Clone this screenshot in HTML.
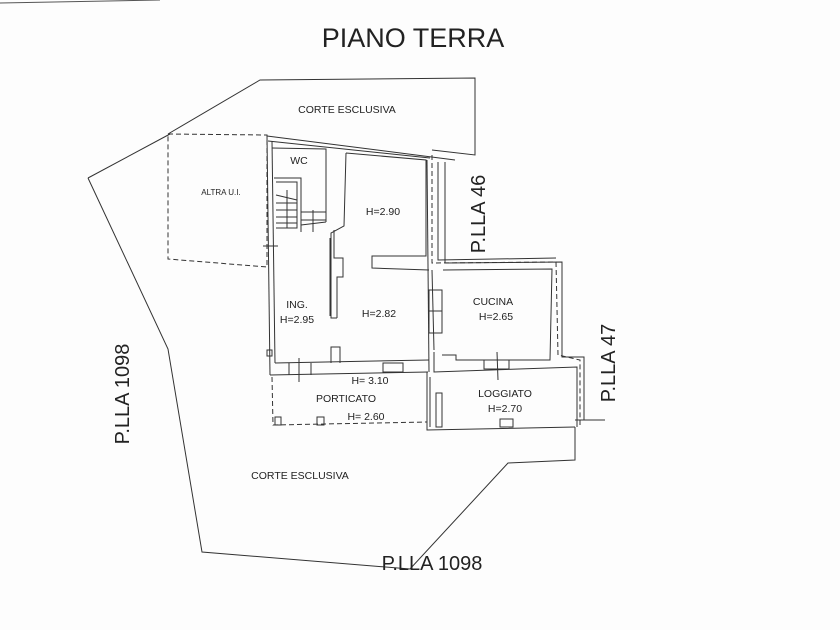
<!DOCTYPE html>
<html><head><meta charset="utf-8"><style>
html,body{margin:0;padding:0;background:#fff;}
svg{display:block;}
text{font-family:"Liberation Sans",sans-serif;fill:#222;}
</style></head><body>
<svg width="840" height="630" viewBox="0 0 840 630" xmlns="http://www.w3.org/2000/svg">
<rect width="840" height="630" fill="#fdfdfd"/>
<line x1="0" y1="3" x2="160" y2="0" stroke="#555" stroke-width="1"/>
<text x="413" y="47" font-size="27" text-anchor="middle" fill="#333">PIANO TERRA</text>

<g fill="none" stroke="#333" stroke-width="1">
<!-- lot outline -->
<polyline points="168,134 260,80 475,78 475,155 432,150"/>
<polyline points="88,178 168,349 202,552 410,569 508,463 575,460 575,427"/>
<line x1="88" y1="178" x2="170" y2="134"/>
<line x1="575" y1="420" x2="605" y2="420"/>
<!-- altra UI dashed -->
<polyline points="168,134 267,135 267,267 168,259 168,134" stroke-dasharray="5,3"/>

<!-- building outer -->
<polyline points="267,136 455,160"/>
<polyline points="268,141 430,158"/>
<line x1="267" y1="136" x2="270" y2="375"/>
<line x1="272" y1="141" x2="275" y2="363"/>
<!-- WC -->
<polyline points="272,148 326,149 326,222"/>
<polyline points="274,178 301,178 301,232"/>
<polyline points="276,182 297,182 297,228 276,228"/>
<line x1="276" y1="195" x2="297" y2="200"/>
<line x1="276" y1="203" x2="297" y2="203"/>
<line x1="276" y1="210" x2="297" y2="210"/>
<line x1="276" y1="217" x2="297" y2="217"/>
<line x1="276" y1="223" x2="297" y2="223"/>
<line x1="287" y1="190" x2="287" y2="228"/>
<polyline points="301,212 326,212"/>
<polyline points="301,220 326,220"/>
<line x1="313" y1="210" x2="313" y2="232"/>
<line x1="301" y1="225" x2="326" y2="222"/>
<!-- H2.90 room -->
<polyline points="346,153 426,160 426,256 372,256 372,268 429,270"/>
<polyline points="346,153 344,226 331,233 331,318 337,318"/>
<polyline points="337,318 337,277 343,277 343,258 334,258 334,230"/>
<line x1="330" y1="238" x2="330" y2="316"/>
<!-- lower main -->
<polyline points="275,363 429,360"/>
<polyline points="331,363 331,347 340,347 340,363"/>
<polyline points="270,375 428,372"/>
<line x1="289" y1="363" x2="289" y2="375"/><line x1="311" y1="363" x2="311" y2="375"/>
<line x1="299" y1="358" x2="299" y2="382"/>
<rect x="383" y="363" width="20" height="9"/>
<!-- right walls of main -->
<line x1="427" y1="160" x2="429" y2="372"/>
<line x1="432" y1="270" x2="434" y2="350"/>
<rect x="429" y="290" width="13" height="43"/>
<line x1="429" y1="311" x2="442" y2="311"/>
<!-- PLLA46 dashed -->
<polyline points="432,155 432,263 556,262 558,355 580,360 580,425" stroke-dasharray="5,3"/>
<polyline points="438,162 438,260 556,258"/>
<polyline points="445,162 445,263 562,262 562,357 584,357 584,420"/>
<!-- Cucina -->
<polyline points="443,270 552,269 550,360 456,360 456,355 442,355"/>
<polyline points="434,352 434,372 577,367 577,427"/>
<rect x="484" y="360" width="25" height="9"/>
<line x1="497" y1="352" x2="498" y2="380"/>
<!-- Loggiato -->
<polyline points="427,372 427,430 575,427"/>
<polyline points="430,377 430,427"/>
<rect x="436" y="393" width="6" height="34"/>
<rect x="500" y="419" width="13" height="8"/>
<!-- Porticato -->
<polyline points="272,377 273,425 427,422" stroke-dasharray="5,3"/>
<rect x="275" y="417" width="6" height="8"/>
<rect x="317" y="417" width="7" height="8"/>
<line x1="263" y1="246" x2="278" y2="246"/>
<rect x="267" y="350" width="5" height="6"/>
</g>

<g font-size="10.5">
<text x="347" y="113" text-anchor="middle">CORTE ESCLUSIVA</text>
<text x="299" y="164" text-anchor="middle">WC</text>
<text x="221" y="195" text-anchor="middle" font-size="8">ALTRA U.I.</text>
<text x="383" y="215" text-anchor="middle">H=2.90</text>
<text x="297" y="308" text-anchor="middle">ING.</text>
<text x="297" y="323" text-anchor="middle">H=2.95</text>
<text x="379" y="317" text-anchor="middle">H=2.82</text>
<text x="493" y="305" text-anchor="middle">CUCINA</text>
<text x="496" y="320" text-anchor="middle">H=2.65</text>
<text x="370" y="384" text-anchor="middle">H= 3.10</text>
<text x="346" y="402" text-anchor="middle">PORTICATO</text>
<text x="366" y="420" text-anchor="middle">H= 2.60</text>
<text x="505" y="397" text-anchor="middle">LOGGIATO</text>
<text x="505" y="412" text-anchor="middle">H=2.70</text>
<text x="300" y="479" text-anchor="middle">CORTE ESCLUSIVA</text>
</g>
<g font-size="20">
<text transform="translate(485,214) rotate(-90)" text-anchor="middle">P.LLA 46</text>
<text transform="translate(615,363) rotate(-90)" text-anchor="middle">P.LLA 47</text>
<text transform="translate(129,394) rotate(-90)" text-anchor="middle">P.LLA 1098</text>
<text x="432" y="570" text-anchor="middle">P.LLA 1098</text>
</g>
</svg>
</body></html>
